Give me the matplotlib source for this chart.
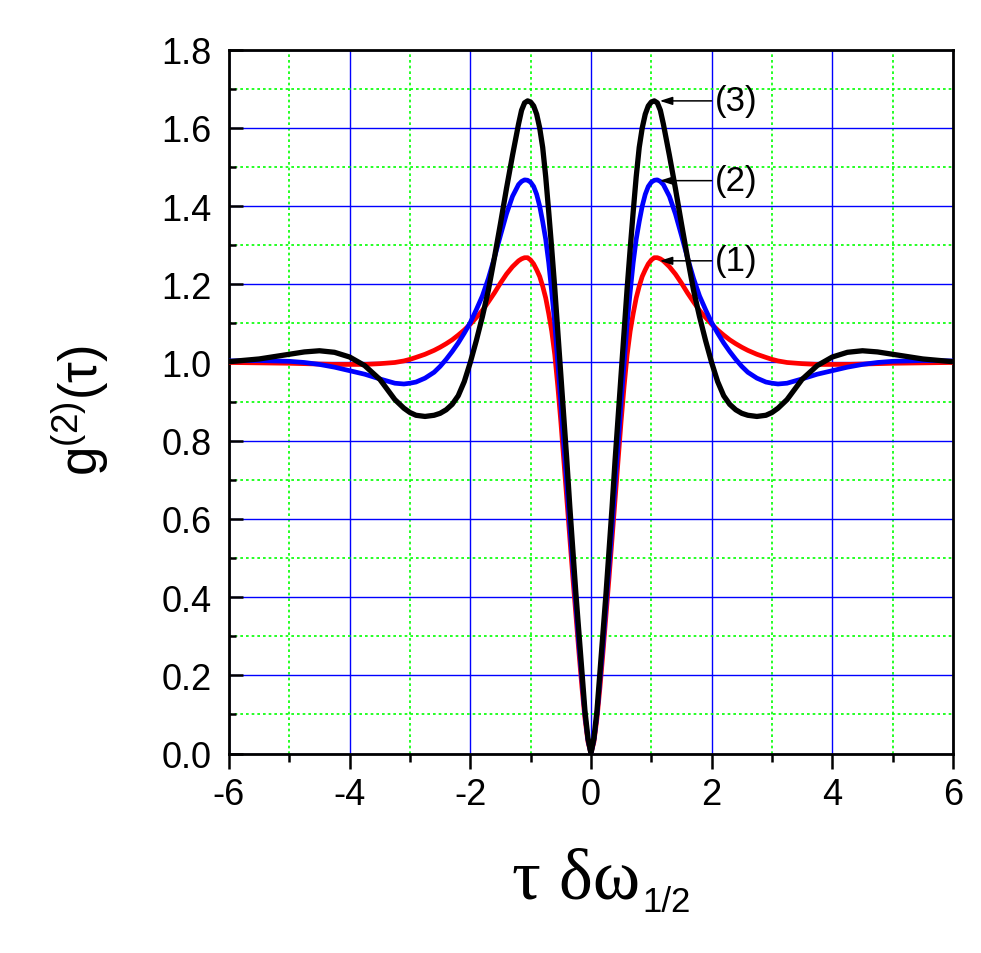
import numpy as np
import matplotlib
matplotlib.use('Agg')
from matplotlib import pyplot as plt
from matplotlib.ticker import MultipleLocator, FormatStrFormatter

plt.rcParams['axes.unicode_minus'] = False
plt.rcParams['mathtext.fontset'] = 'custom'
plt.rcParams['mathtext.rm'] = 'Liberation Sans'
plt.rcParams['mathtext.default'] = 'regular'

# values for tau*dw >= 0 (the curves are symmetric about 0)
tau_half = [0, 0.05, 0.1, 0.15, 0.2, 0.25, 0.3, 0.35, 0.4, 0.45,
            0.5, 0.55, 0.6, 0.65, 0.7, 0.75, 0.8, 0.85, 0.9, 0.95,
            1.0, 1.05, 1.1, 1.15, 1.2, 1.3, 1.4, 1.5, 1.6, 1.7,
            1.8, 1.9, 2.0, 2.1, 2.2, 2.3, 2.4, 2.5, 2.6, 2.75,
            2.9, 3.0, 3.1, 3.25, 3.5, 3.75, 4.0, 4.25, 4.5, 4.75,
            5.0, 5.5, 6.0]

# curve (1), red
g2_1 = [0.0, 0.03, 0.09, 0.17, 0.26, 0.355, 0.45, 0.55, 0.65, 0.75,
        0.85, 0.94, 1.02, 1.08, 1.125, 1.165, 1.195, 1.22, 1.237, 1.252,
        1.262, 1.268, 1.268, 1.265, 1.26, 1.245, 1.226, 1.203, 1.178, 1.155,
        1.133, 1.115, 1.098, 1.083, 1.07, 1.058, 1.048, 1.039, 1.031, 1.021,
        1.013, 1.008, 1.004, 1.0, 0.997, 0.995, 0.995, 0.995, 0.996, 0.997,
        0.998, 0.999, 1.0]

# curve (2), blue
g2_2 = [0.0, 0.035, 0.10, 0.19, 0.28, 0.38, 0.48, 0.58, 0.69, 0.79,
        0.90, 1.00, 1.10, 1.18, 1.255, 1.315, 1.36, 1.40, 1.43, 1.45,
        1.461, 1.466, 1.467, 1.463, 1.455, 1.425, 1.38, 1.325, 1.268, 1.215,
        1.17, 1.135, 1.102, 1.075, 1.05, 1.028, 1.008, 0.99, 0.975, 0.96,
        0.95, 0.947, 0.945, 0.947, 0.958, 0.97, 0.979, 0.988, 0.995, 1.0,
        1.003, 1.005, 1.004]

# curve (3), black
g2_3 = [0.0, 0.04, 0.11, 0.21, 0.31, 0.41, 0.52, 0.63, 0.75, 0.86,
        0.97, 1.08, 1.19, 1.29, 1.385, 1.475, 1.55, 1.60, 1.635, 1.656,
        1.666, 1.669, 1.664, 1.645, 1.61, 1.53, 1.445, 1.355, 1.268, 1.185,
        1.117, 1.056, 1.0, 0.951, 0.915, 0.893, 0.879, 0.870, 0.865, 0.862,
        0.865, 0.872, 0.883, 0.905, 0.957, 0.992, 1.014, 1.026, 1.030, 1.027,
        1.021, 1.009, 1.002]

curve_labels = ['(1)', '(2)', '(3)']
peak_heights = [1.26, 1.465, 1.669]


def full(v, neg=False):
    # mirror the half curve to the negative side
    v = np.asarray(v, dtype=float)
    left = -v[::-1] if neg else v[::-1]
    return np.concatenate([left, v[1:]])


tau = full(tau_half, neg=True)

fig = plt.figure(figsize=(9.81, 9.54), dpi=100)
ax = fig.add_axes([0.2334, 0.2091, 0.7380, 0.7378])

ax.plot(tau, full(g2_1), color='#ff0000', lw=3.4, solid_joinstyle='round', zorder=3)
ax.plot(tau, full(g2_2), color='#0000ff', lw=3.4, solid_joinstyle='round', zorder=4)
ax.plot(tau, full(g2_3), color='#000000', lw=3.8, solid_joinstyle='round', zorder=5)

ax.set_xlim(-6, 6)
ax.set_ylim(0, 1.8)
ax.xaxis.set_major_locator(MultipleLocator(2))
ax.xaxis.set_minor_locator(MultipleLocator(1))
ax.yaxis.set_major_locator(MultipleLocator(0.2))
ax.yaxis.set_minor_locator(MultipleLocator(0.1))
ax.yaxis.set_major_formatter(FormatStrFormatter('%.1f'))

ax.grid(which='major', color='#0000ff', lw=1.0, ls='-')
ax.grid(which='minor', color='#00ff00', lw=1.2, ls=(0, (1.6, 1.8)))
ax.set_axisbelow(True)

for s in ax.spines.values():
    s.set_linewidth(2.0)

ax.tick_params(axis='x', which='major', direction='out', length=10.8, width=1.8, pad=6,
               labelsize=26)
ax.tick_params(axis='x', which='minor', direction='out', length=5.8, width=1.8)
ax.tick_params(axis='y', which='major', direction='in', length=10, width=1.8, pad=12.4,
               labelsize=26)
ax.tick_params(axis='y', which='minor', direction='in', length=5, width=1.8)

for t in ax.get_xticklabels() + ax.get_yticklabels():
    t.set_family('Liberation Sans')

# arrows pointing at the peaks
for lab, h in zip(curve_labels, peak_heights):
    ax.annotate('', xy=(1.14, h), xytext=(2.0, h),
                arrowprops=dict(arrowstyle='-|>,head_length=0.5,head_width=0.16',
                                color='k', lw=1.1, shrinkA=0, shrinkB=0,
                                mutation_scale=15), zorder=6)
    ax.text(2.05, h, lab, ha='left', va='center', fontsize=25,
            family='Liberation Sans', zorder=6)

# y label
fig.text(80 / 981, 1 - 410 / 954, r'g$^{(2)}$(τ)', rotation=90, ha='center',
         va='center', fontsize=38, family='Liberation Sans')

# x label: tau delta omega with sans-serif subscript 1/2
xl = fig.text(511.7 / 981, 1 - 898.3 / 954, 'τ δω', ha='left', va='baseline',
              fontsize=49, family='Liberation Serif')
renderer = fig.canvas.get_renderer()
w = xl.get_window_extent(renderer).width
xl.set_fontsize(49 * 128.0 / w)
x_end = xl.get_window_extent(renderer).x1
fig.text((x_end + 2) / 981, 1 - 911.7 / 954, '1/2', ha='left', va='baseline',
         fontsize=25, family='Liberation Sans')

fig.savefig('out.png', dpi=100)
